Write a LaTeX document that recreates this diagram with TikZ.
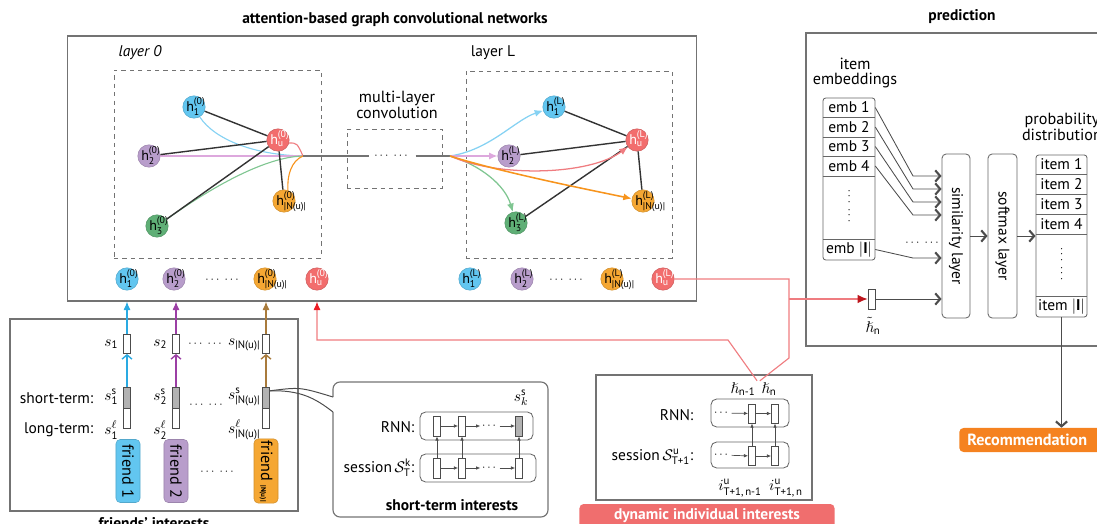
\documentclass[tikz,border=0pt]{standalone}
\usepackage{amsmath,amssymb}
\usepackage{fontspec}
\setmainfont{PT Sans}
\usepackage{tikz}
\usetikzlibrary{positioning,arrows.meta}

\definecolor{nblue}{HTML}{62C6F0}
\definecolor{npurple}{HTML}{B89DCB}
\definecolor{nred}{HTML}{F26D6D}
\definecolor{ngreen}{HTML}{5FAF76}
\definecolor{norange}{HTML}{F5A733}
\definecolor{ablue}{HTML}{2AAAE2}
\definecolor{apurple}{HTML}{9C3FA5}
\definecolor{abrown}{HTML}{A97B3C}
\definecolor{ared}{HTML}{EC1C24}
\definecolor{lred}{HTML}{EF7C80}
\definecolor{lblue}{HTML}{86D2F3}
\definecolor{lpink}{HTML}{DDA8DD}
\definecolor{lgreen}{HTML}{80C692}
\definecolor{lorange}{HTML}{F7941D}
\definecolor{recor}{HTML}{F58220}
\definecolor{bnred}{HTML}{F06E6E}

\newcommand{\hv}[2]{\makebox[11pt][l]{\raisebox{-3pt}[0pt][0pt]{h$^{\text{#2}}_{\text{#1}}$}}}
\newcommand{\dd}{$\cdots\;\cdots$}

\begin{document}
\begin{tikzpicture}[x=0.025cm,y=-0.025cm,font=\fontsize{11}{11}\selectfont]
    \tikzset{panel/.style={draw=black!55,line width=0.8pt},
      layerbox/.style={draw=black!55,dashed,line width=0.6pt},
      hnode/.style={circle,draw=#1!85!black,fill=#1,minimum size=0.56cm,inner sep=0pt,font=\fontsize{10}{10}\selectfont},
      gedge/.style={draw=black!80,line width=1pt},
      mline/.style={draw=black!55,line width=1.4pt},
      tipL/.style={-{Latex[length=6pt,width=5pt]}},
      cell/.style={draw=black!70,fill=white,minimum width=0.175cm,minimum height=0.48cm,inner sep=0pt,line width=0.5pt},
      rbox/.style={draw=black!60,rounded corners=4pt,line width=0.6pt},
      tbl/.style={draw=black!60,rounded corners=2pt,line width=0.6pt},
      row/.style={minimum width=1.3cm,inner sep=0pt},
      dotz/.style={font=\footnotesize,inner sep=1pt},
      lab/.style={inner sep=1pt},
      sarr/.style={draw=black!70,line width=0.5pt,-{Latex[length=3pt,width=2.5pt]}},
      chev/.style={-{Straight Barb[length=3pt,width=7pt,line width=1pt]}},
      pline/.style={draw=black!70,line width=0.6pt,-{Straight Barb[length=3.5pt,width=8pt,line width=1.5pt]}},
      rline/.style={draw=lred,line width=0.8pt},
      ftag/.style={fill=#1,draw=#1!85!black,rounded corners=3pt,rotate=-90,minimum width=1.575cm,minimum height=0.6cm,inner sep=1pt,font=\fontsize{11.5}{12}\selectfont},
      title/.style={font=\fontsize{11}{11}\selectfont\bfseries}}
    \useasboundingbox (0,0) rectangle (1097,524);
    \clip (0,0) rectangle (1097,524);

    % attention-based graph convolutional networks
    \node[title] (tgcn) at (395,20) {attention-based graph convolutional networks};
    \node[panel,minimum width=15.7cm,minimum height=6.625cm] (gcn) at (382,168.5) {};
    \node[layerbox,minimum width=5.175cm,minimum height=4.7cm] (lay0) at (217.5,164) {};
    \node[layerbox,minimum width=5.15cm,minimum height=4.675cm] (layL) at (569,164.5) {};
    \node[layerbox,minimum width=2.375cm,minimum height=1.475cm] (mlc) at (394.5,158.5) {};
    \node[font=\fontsize{11}{11}\selectfont\itshape] (l0) at (140,53) {layer 0};
    \node (lL) at (493,53) {layer L};
    \node[align=center,font=\fontsize{11.5}{10}\selectfont] (mlt) at (397,105) {multi-layer\\convolution};

    \node[hnode=nblue] (h1a) at (194,107) {\hv{1}{(0)}};
    \node[hnode=nred,text=white] (hua) at (278,140) {\hv{u}{(0)}};
    \node[hnode=npurple] (h2a) at (149,156) {\hv{2}{(0)}};
    \node[hnode=ngreen] (h3a) at (157,226) {\hv{3}{(0)}};
    \node[hnode=norange] (hNa) at (284,201) {\hv{|N(u)|}{(0)}};
    \coordinate (m0) at (303,156);
    \draw[lblue,line width=0.8pt] (h1a.-60) .. controls (215,140) and (255,155) .. (m0);
    \draw[lpink,line width=0.8pt] (h2a) -- (m0);
    \draw[lgreen,line width=0.8pt] (h3a.35) .. controls (212,187) and (265,157) .. (m0);
    \draw[lred,line width=0.8pt] (hua.-15) .. controls (297,143) .. (m0);
    \draw[lorange,line width=0.8pt] (hNa.70) .. controls (287,176) and (291,161) .. (m0);
    \path[gedge]
    (h1a) edge (hua)
    (h2a) edge (hua)
    (h3a) edge (hua)
    (hNa) edge (hua);

    \node[dotz,inner sep=4pt] (mdots) at (392,156) {\dd};
    \coordinate (mL) at (450,156);
    \draw[mline] (m0) -- (mdots);
    \draw[mline] (mdots) -- (mL);

    \node[hnode=nblue] (h1L) at (554,107) {\hv{1}{(L)}};
    \node[hnode=nred,text=white] (huL) at (637,140) {\hv{u}{(L)}};
    \node[hnode=npurple] (h2L) at (509,156) {\hv{2}{(L)}};
    \node[hnode=ngreen] (h3L) at (516,223) {\hv{3}{(L)}};
    \node[hnode=norange] (hNL) at (643,201) {\hv{|N(u)|}{(L)}};
    \path[gedge]
    (h1L) edge (huL)
    (h2L) edge (huL)
    (h3L) edge (huL)
    (hNL) edge (huL);
    \draw[lblue,line width=0.9pt,tipL] (mL) .. controls (490,150) and (515,120) .. (h1L);
    \draw[lpink,line width=0.9pt,tipL] (mL) -- (h2L);
    \draw[lgreen,line width=0.9pt,tipL] (mL) .. controls (480,165) and (505,185) .. (h3L);
    \draw[lred,line width=0.9pt,tipL] (mL) .. controls (500,178) and (590,175) .. (huL);
    \draw[lorange,line width=1.1pt,tipL] (mL) .. controls (500,172) and (590,190) .. (hNL);

    \node[hnode=nblue] (b1a) at (127,279) {\hv{1}{(0)}};
    \node[hnode=npurple] (b2a) at (174,279) {\hv{2}{(0)}};
    \node[dotz] (bda) at (223,280) {\dd};
    \node[hnode=norange] (bNa) at (265,279) {\hv{|N(u)|}{(0)}};
    \node[hnode=nred,text=white] (bua) at (317,279) {\hv{u}{(0)}};
    \node[hnode=nblue] (b1L) at (470,279) {\hv{1}{(L)}};
    \node[hnode=npurple] (b2L) at (522,279) {\hv{2}{(L)}};
    \node[dotz] (bdL) at (567,280) {\dd};
    \node[hnode=norange] (bNL) at (612,279) {\hv{|N(u)|}{(L)}};
    \node[hnode=nred,text=white] (buL) at (663,279) {\hv{u}{(L)}};

    % friends' interests
    \node[panel,minimum width=7.2cm,minimum height=4.8cm] (fri) at (154,415) {};
    \node[title,anchor=north] (tfri) at (154,513) {friends’ interests};
    \node[cell] (s1) at (127,344) {};
    \node[cell] (s2) at (176,344) {};
    \node[cell] (sN) at (266,344) {};
    \node[cell,fill=black!30,minimum height=0.525cm] (st1) at (127,397.5) {};
    \node[cell,fill=black!30,minimum height=0.525cm] (st2) at (176,397.5) {};
    \node[cell,fill=black!30,minimum height=0.525cm] (stN) at (266,397.5) {};
    \node[cell,below=0pt of st1] (lt1) {};
    \node[cell,below=0pt of st2] (lt2) {};
    \node[cell,below=0pt of stN] (ltN) {};
    \foreach \k/\c in {1/ablue,2/apurple,N/abrown} {
      \draw[\c,line width=0.8pt,chev] (st\k) -- (s\k);
      \draw[\c,line width=0.8pt,tipL] (s\k) -- (s\k |- gcn.south);
    }
    \node[lab,anchor=east] (ls1) at (120,344) {$s_{\text{1}}$};
    \node[lab,anchor=east] (ls2) at (169,344) {$s_{\text{2}}$};
    \node[dotz] (lsd) at (206,344) {\dd};
    \node[lab,anchor=east] (lsN) at (262,345) {$s_{\text{|N(u)|}}$};
    \node[lab,anchor=east] (tst) at (95,398) {short-term:};
    \node[lab,anchor=east] (tlt) at (95,430) {long-term:};
    \node[lab,anchor=east] (ss1) at (120,397) {$s^{\text{s}}_{\text{1}}$};
    \node[lab,anchor=east] (ss2) at (169,397) {$s^{\text{s}}_{\text{2}}$};
    \node[dotz] (ssd) at (207,405) {\dd};
    \node[lab,anchor=east] (ssN) at (262,397) {$s^{\text{s}}_{\text{|N(u)|}}$};
    \node[lab,anchor=east] (sl1) at (120,430) {$s^{\ell}_{\text{1}}$};
    \node[lab,anchor=east] (sl2) at (169,430) {$s^{\ell}_{\text{2}}$};
    \node[lab,anchor=east] (slN) at (262,430) {$s^{\ell}_{\text{|N(u)|}}$};
    \node[ftag=nblue] (f1) at (128,471) {friend 1};
    \node[ftag=npurple] (f2) at (176,471) {friend 2};
    \node[dotz] (fd) at (218,472) {\dd};
    \node[ftag=norange] (fN) at (266,471) {friend {\tiny\bfseries|N(u)|}};

    % short-term interests
    \coordinate (ca) at (333,397);
    \coordinate (cb) at (333,412);
    \draw[panel,rounded corners=5pt] (ca) -- (333,382) -- (548,382) -- (548,517) -- (333,517) -- (cb);
    \draw[draw=black!70,line width=0.7pt] (stN.60) .. controls (300,387) .. (ca);
    \draw[draw=black!70,line width=0.7pt] (stN.60) .. controls (300,390) and (315,398) .. (cb);
    \node[rbox,minimum width=2.825cm,minimum height=0.7cm] (rnnA) at (476.5,426) {};
    \node[rbox,minimum width=2.9cm,minimum height=0.7cm] (sesA) at (478,468) {};
    \node[cell,minimum height=0.5cm] (ra1) at (437,426) {};
    \node[cell,minimum height=0.5cm] (ra2) at (462,426) {};
    \node[cell,minimum height=0.5cm,fill=black!30] (ra3) at (519,426) {};
    \node[dotz] (rad) at (490,426) {$\cdots$};
    \node[cell,minimum height=0.5cm] (sa1) at (437,468) {};
    \node[cell,minimum height=0.5cm] (sa2) at (462,468) {};
    \node[cell,minimum height=0.5cm] (sa3) at (519,468) {};
    \node[dotz] (sad) at (490,468) {$\cdots$};
    \draw[sarr] (ra1) -- (ra2);
    \draw[sarr] (ra2) -- (rad);
    \draw[sarr] (rad) -- (ra3);
    \draw[sarr] (sa1) -- (sa2);
    \draw[sarr] (sa2) -- (sad);
    \draw[sarr] (sad) -- (sa3);
    \foreach \i in {1,2,3}
      \draw[sarr] (sa\i) -- (ra\i);
    \node[lab] (lsk) at (521,398) {$s^{\text{s}}_{k}$};
    \node[lab,anchor=east] (trA) at (416,427) {RNN:};
    \node[lab,anchor=east] (tsA) at (416,468) {session\,$\mathcal{S}^{\text{k}}_{\text{T}}$:};
    \node[title] (tsti) at (452,505) {short-term interests};

    % dynamic individual interests
    \node[panel,minimum width=5.4cm,minimum height=3.125cm] (dyn) at (704,437.5) {};
    \node[rbox,minimum width=1.95cm,minimum height=0.7cm] (rnnB) at (750,413) {};
    \node[rbox,minimum width=1.95cm,minimum height=0.65cm] (sesB) at (750,455) {};
    \node[cell] (rb1) at (752,413.5) {};
    \node[cell] (rb2) at (775,413.5) {};
    \node[cell] (sb1) at (752,456) {};
    \node[cell] (sb2) at (775,456) {};
    \node[dotz] (rbd) at (722,413) {$\cdots$};
    \node[dotz] (sbd) at (722,455) {$\cdots$};
    \draw[sarr] (rbd) -- (rb1);
    \draw[sarr] (rb1) -- (rb2);
    \draw[sarr] (sbd) -- (sb1);
    \draw[sarr] (sb1) -- (sb2);
    \draw[sarr] (sb1) -- (rb1);
    \draw[sarr] (sb2) -- (rb2);
    \node[lab] (hn1) at (743,389) {$\hslash_{\text{n-1}}$};
    \node[lab] (hn) at (769,389) {$\hslash_{\text{n}}$};
    \node[lab,anchor=east] (trB) at (695,415) {RNN:};
    \node[lab,anchor=east] (tsB) at (695,457) {session\,$\mathcal{S}^{\text{u}}_{\text{T+1}}$:};
    \node[lab] (ib1) at (740,488) {$i^{\text{u}}_{\text{T+1,\,n-1}}$};
    \node[lab] (ib2) at (786,488) {$i^{\text{u}}_{\text{T+1,\,n}}$};
    \node[fill=bnred,text=white,rounded corners=3pt,minimum width=6.375cm,minimum height=0.6cm,font=\fontsize{11}{11}\selectfont\bfseries] (tdyn) at (707,516) {dynamic individual interests};

    % prediction
    \node[title] (tpred) at (962,17) {prediction};
    \node[panel,minimum width=7.725cm,minimum height=7.825cm] (pred) at (960.5,189.5) {};
    \node[align=center,font=\fontsize{11.5}{10}\selectfont] (temb) at (855,73) {item\\embeddings};
    \node[tbl,minimum width=1.3cm,minimum height=4.05cm] (emb) at (849,179) {};
    \foreach \y in {117,137,156,176,239}
      \draw[black!60,line width=0.6pt] (emb.west |- 0,\y) -- (emb.east |- 0,\y);
    \node[row] (e1) at (849,107.5) {emb 1};
    \node[row] (e2) at (849,127) {emb 2};
    \node[row] (e3) at (849,146.5) {emb 3};
    \node[row] (e4) at (849,166) {emb 4};
    \node[row,rotate=-90,font=\footnotesize] (ed) at (849,207) {\dd};
    \node[row] (eI) at (849,249.5) {emb $|\mathbf{I}|$};
    \node[tbl,minimum width=0.7cm,minimum height=4.1cm,rounded corners=3pt] (sim) at (956,236) {};
    \node[rotate=-90] (tsim) at (sim) {similarity layer};
    \node[tbl,minimum width=0.725cm,minimum height=4.1cm,rounded corners=3pt] (soft) at (1002.5,236) {};
    \node[rotate=-90] (tsoft) at (soft) {softmax layer};
    \foreach \r/\y in {e1/176,e2/189,e3/202,e4/215,eI/258}
      \draw[pline] (\r.east) -- (913,\y) -- (sim.west |- 913,\y);
    \node[dotz] (pdots) at (923,243) {\dd};
    \node[cell,minimum width=0.18cm,minimum height=0.5cm] (hnt) at (871.5,299) {};
    \node[lab] (lhnt) at (873,326) {$\tilde{\hslash}_{\text{n}}$};
    \draw[pline] (hnt) -- (sim.west |- hnt);
    \draw[pline] (sim) -- (soft);
    \node[align=center,font=\fontsize{11.5}{10}\selectfont] (tprob) at (1062,127) {probability\\distribution};
    \node[tbl,minimum width=1.275cm,minimum height=4.05cm] (prob) at (1061.5,236) {};
    \draw[pline] (soft) -- (prob);
    \foreach \y in {174,194,214,234,296}
      \draw[black!60,line width=0.6pt] (prob.west |- 0,\y) -- (prob.east |- 0,\y);
    \node[row] (p1) at (1061.5,164.5) {item 1};
    \node[row] (p2) at (1061.5,184) {item 2};
    \node[row] (p3) at (1061.5,204) {item 3};
    \node[row] (p4) at (1061.5,224) {item 4};
    \node[row,rotate=-90,font=\footnotesize] (pd) at (1061.5,265) {\dd};
    \node[row,minimum height=0.525cm] (pI) at (1061.5,306.5) {item $|\mathbf{I}|$};
    \node[anchor=west,fill=recor,text=white,rounded corners=3pt,minimum height=0.6cm,text width=4cm,inner xsep=0.2cm,font=\fontsize{11.5}{12}\selectfont\bfseries] (rec) at (959,440) {Recommendation};
    \draw[pline] (pI) -- (pI |- rec.north);

    % red links
    \coordinate (jn) at (789,299);
    \coordinate (jt) at (789,358);
    \coordinate (jk) at (728,340);
    \draw[rline] (buL.east) -| (jt) -- (hn.north west);
    \draw[rline,-{Latex[length=7pt,width=6pt,color=ared!80!black]}] (jn) -- (hnt);
    \draw[rline,-{Latex[length=6pt,width=5pt,color=ared]}] (hn1.north east) -- (jk) -| (bua |- gcn.south);
  \end{tikzpicture}
\end{document}
